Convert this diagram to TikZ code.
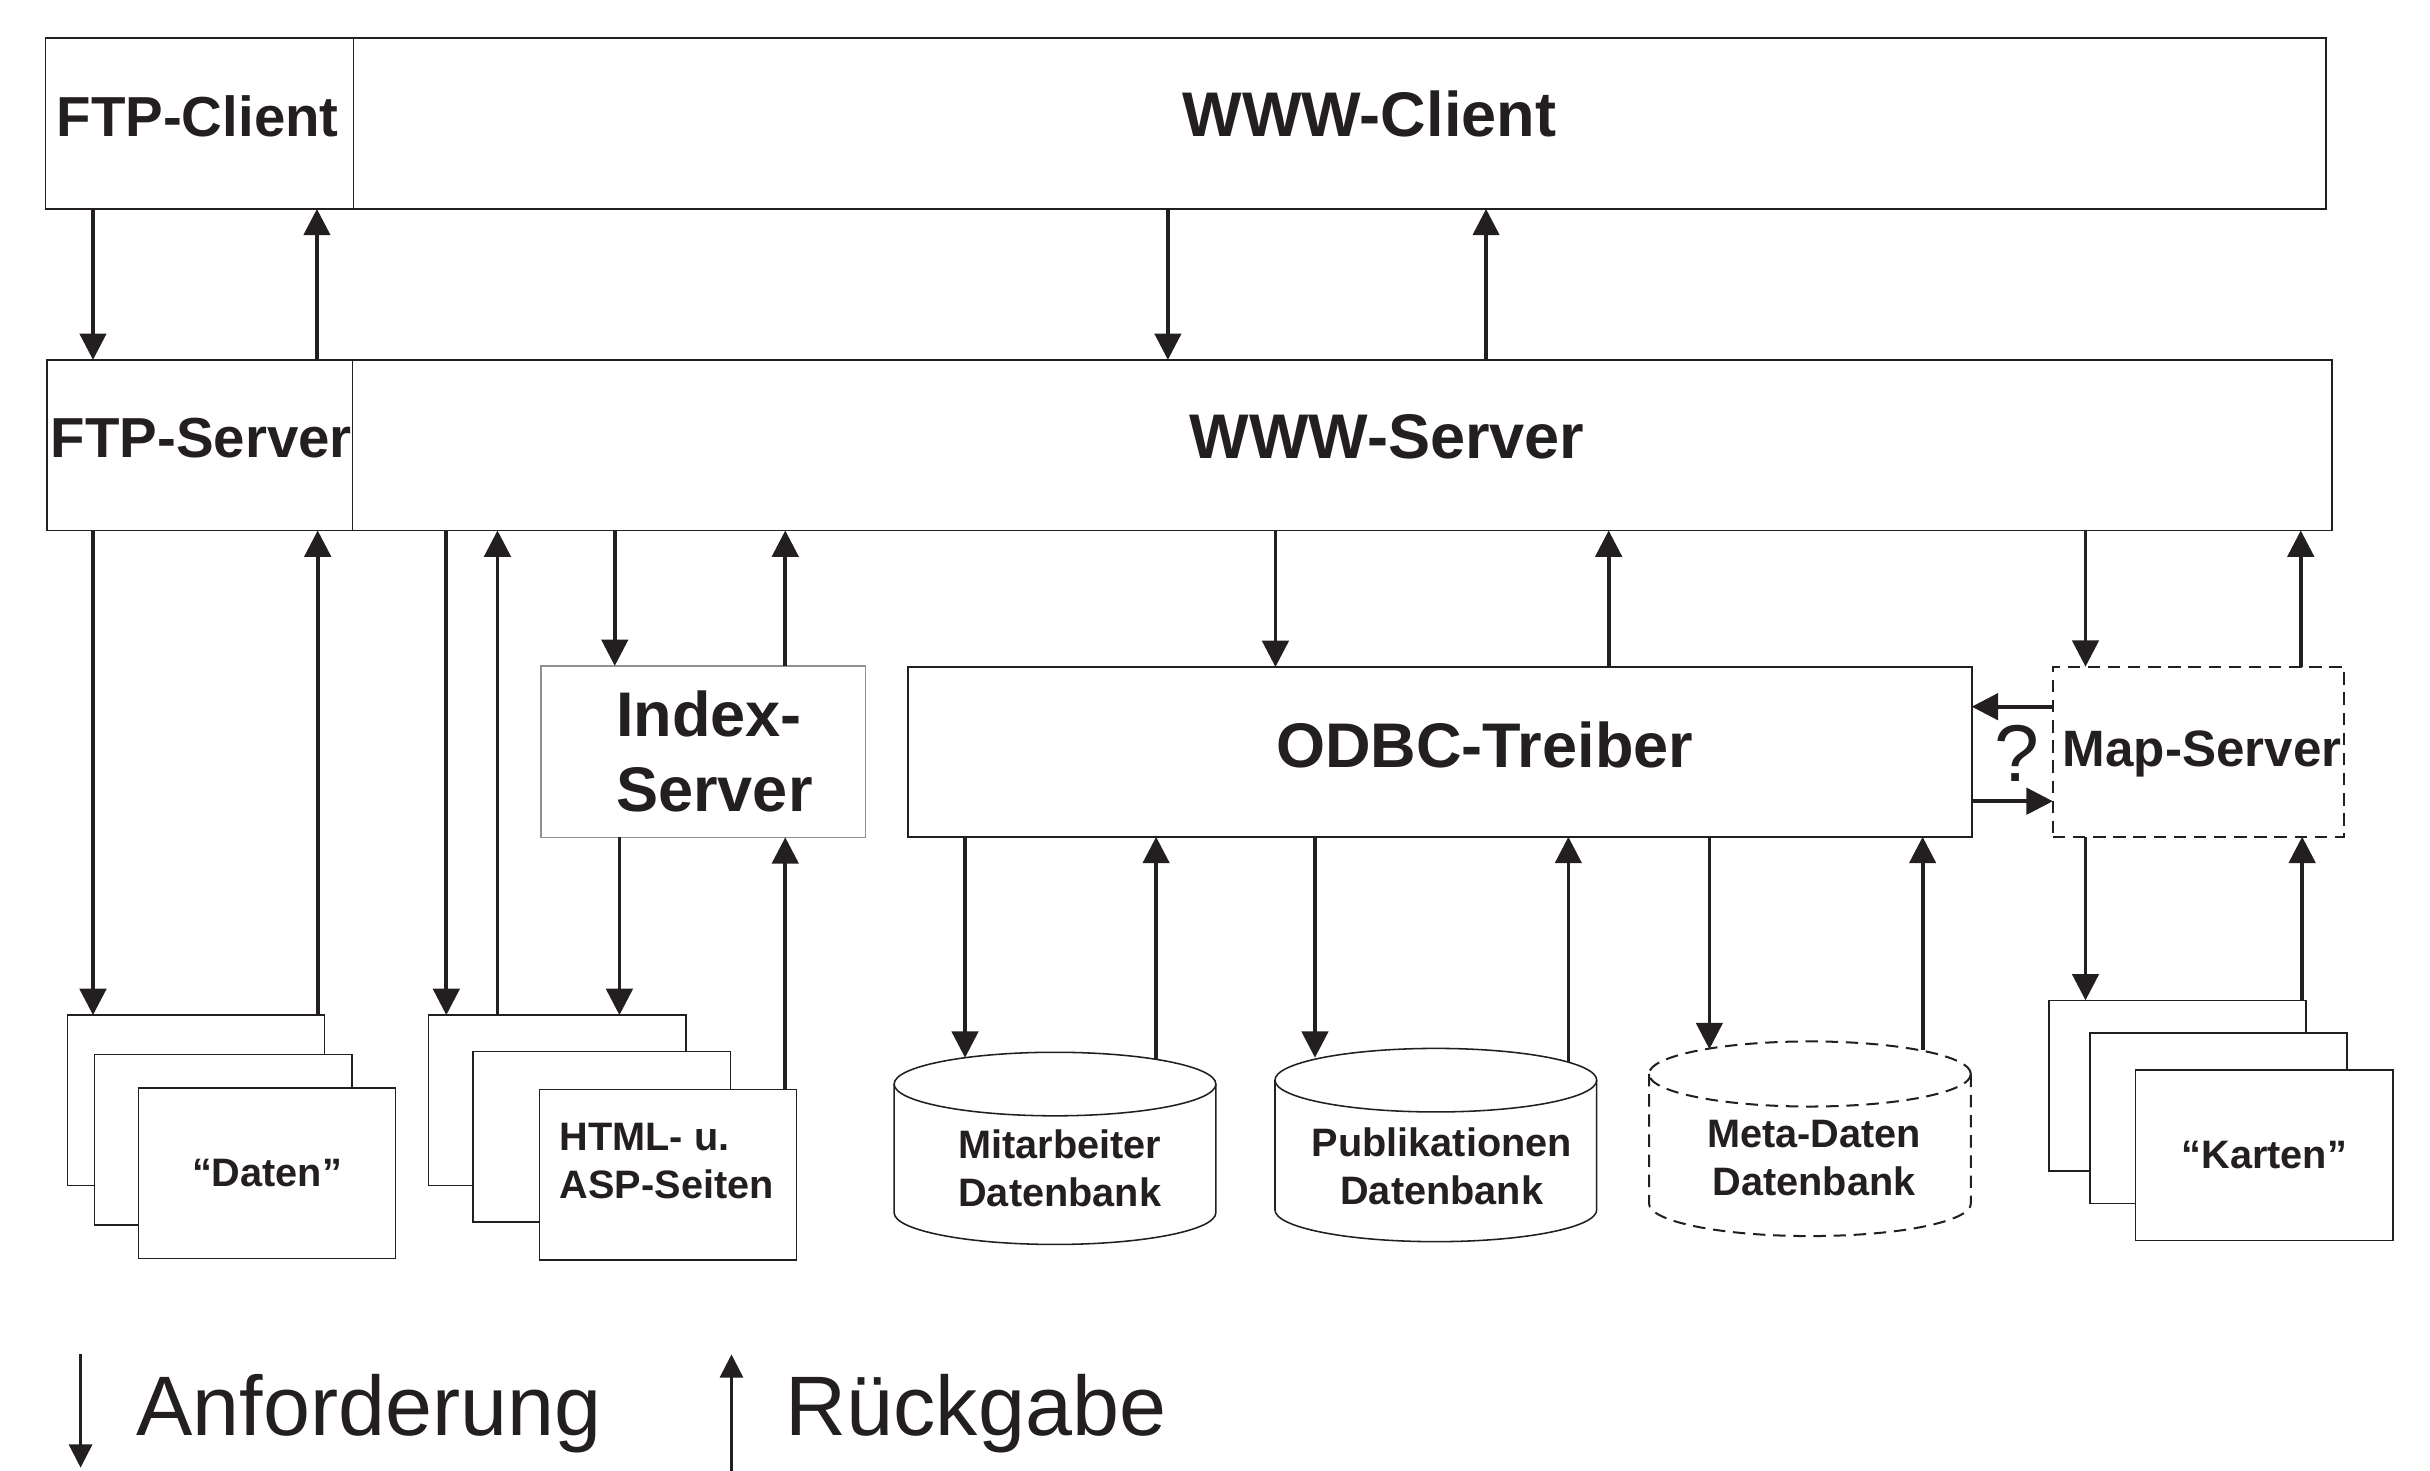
\documentclass[tikz,border=0pt]{standalone}
\usepackage{fontspec}
\setmainfont{Liberation Sans}
\usetikzlibrary{arrows.meta,calc}
\definecolor{ink}{HTML}{231F20}
% #1 node name, #2 x radius, #3 y radius, #4 style
\newcommand\drawcyl[4]{%
  \draw[#4] ($(#1.north)+(0,#3)$) ellipse [x radius=#2pt, y radius=#3pt];
  \draw[#4] ($(#1.north west)+(0,#3)$) -- ($(#1.south west)+(0,-#3)$)
     arc[start angle=180, end angle=360, x radius=#2pt, y radius=#3pt]
     -- ($(#1.north east)+(0,#3)$);
}
\begin{document}
\begin{tikzpicture}[x=1pt,y=-1pt,
  every node/.style={inner sep=0pt,outer sep=0pt,text=ink},
  box/.style={draw=ink,line width=1pt,fill=white,rectangle},
  graybox/.style={draw=ink!50,line width=0.9pt,fill=white,rectangle},
  dashbox/.style={draw=ink,line width=1.3pt,fill=white,rectangle,dash pattern=on 8pt off 5pt},
  page/.style={box,minimum width=166pt,minimum height=110pt},
  cylbox/.style={rectangle,minimum width=207.6pt},
  arr/.style={draw=ink,line width=2.4pt,-{Triangle[length=17pt,width=17pt]}},
  legarr/.style={draw=ink,line width=1.6pt,-{Triangle[length=15pt,width=15pt]}},
  bigtxt/.style={font=\fontsize{40.7pt}{49pt}\selectfont\bfseries},
  ftptxt/.style={font=\fontsize{36.4pt}{44pt}\selectfont\bfseries},
  maptxt/.style={font=\fontsize{33pt}{40pt}\selectfont\bfseries},
  smalltxt/.style={font=\fontsize{25.6pt}{31pt}\selectfont\bfseries},
  qtxt/.style={font=\fontsize{52pt}{60pt}\selectfont},
  legtxt/.style={font=\fontsize{54.5pt}{65pt}\selectfont},
  cyl/.style={draw=ink,line width=1pt},
  cyldash/.style={draw=ink,line width=1.3pt,dash pattern=on 8pt off 5pt},
]
\fill[white] (0,0) rectangle (1568,949);
\useasboundingbox (0,0) rectangle (1568,949);

% --- top rows ---
\node[box,minimum width=198.6pt,minimum height=110.3pt] (ftpc) at (128.7,79.65) {};
\node[box,minimum width=1272.7pt,minimum height=110.3pt] (wwwc) at (864.35,79.65) {};
\node[box,minimum width=197pt,minimum height=110.1pt] (ftps) at (129,287.25) {};
\node[box,minimum width=1277.3pt,minimum height=110.1pt] (wwws) at (866.15,287.25) {};
\node[ftptxt] (ftpctxt) at (127.5,75.3) {FTP-Client};
\node[bigtxt] (wwwctxt) at (883.6,73.3) {WWW-Client};
\node[ftptxt] (ftpstxt) at (130,282.7) {FTP-Server};
\node[bigtxt] (wwwstxt) at (895,282) {WWW-Server};

% --- middle row ---
\node[graybox,minimum width=209.6pt,minimum height=110.6pt] (idx) at (453.8,485) {};
\node[bigtxt,align=left] (idxtxt) at (461,484.9) {Index-\\Server};
\node[box,minimum width=686.3pt,minimum height=109.6pt] (odbc) at (929.15,485.2) {};
\node[bigtxt] (odbctxt) at (958,480.5) {ODBC-Treiber};
\node[dashbox,minimum width=187.9pt,minimum height=109.7pt] (map) at (1418.55,485.05) {};
\node[maptxt,text depth=0pt] (maptxt) at (1421,483) {Map-Server};
\node[qtxt] (q) at (1301.5,486) {?};

% --- page stacks ---
\node[page] (dat1) at (126.5,710) {};
\node[page] (dat2) at (144,735.5) {};
\node[page,smalltxt] (dat3) at (172.3,757) {“Daten”};
\node[page] (htm1) at (359.5,710) {};
\node[page] (htm2) at (388.3,733.5) {};
\node[page] (htm3) at (431,758) {};
\node[smalltxt,align=left] (htmtxt) at (430.2,749) {HTML- u.\\ASP-Seiten};
\node[page] (kar1) at (1405,700.5) {};
\node[page] (kar2) at (1431.5,721.5) {};
\node[page,smalltxt] (kar3) at (1461,745.5) {“Karten”};

% --- databases ---
\node[cylbox,minimum height=124pt] (mit) at (680.75,741) {};
\drawcyl{mit}{103.8}{20.5}{cyl}
\node[smalltxt,align=center] (mittxt) at (683.8,754) {Mitarbeiter\\Datenbank};
\node[cylbox,minimum height=124.7pt] (pub) at (926.5,738.85) {};
\drawcyl{pub}{103.8}{20.5}{cyl}
\node[smalltxt,align=center] (pubtxt) at (930.3,752.7) {Publikationen\\Datenbank};
\node[cylbox,minimum height=125.6pt] (meta) at (1167.85,734.8) {};
\drawcyl{meta}{103.85}{21}{cyldash}
\node[smalltxt,align=center] (metatxt) at (1170.6,747.5) {Meta-Daten\\Datenbank};

% --- connectors: clients / servers ---
\draw[arr] (ftpc.south -| 60,0) -- (ftps.north -| 60,0);
\draw[arr] (ftps.north -| 204.5,0) -- (ftpc.south -| 204.5,0);
\draw[arr] (wwwc.south -| 753.6,0) -- (wwws.north -| 753.6,0);
\draw[arr] (wwws.north -| 958.9,0) -- (wwwc.south -| 958.9,0);

% --- servers to lower level ---
\draw[arr] (ftps.south -| 60,0) -- (dat1.north -| 60,0);
\draw[arr] (dat1.north -| 205,0) -- (ftps.south -| 205,0);
\draw[arr] (wwws.south -| 288,0) -- (htm1.north -| 288,0);
\draw[arr] (htm1.north -| 321,0) -- (wwws.south -| 321,0);
\draw[arr] (wwws.south -| 396.7,0) -- (idx.north -| 396.7,0);
\draw[arr] (idx.north -| 506.7,0) -- (wwws.south -| 506.7,0);
\draw[arr] (idx.south -| 399.7,0) -- (htm1.north -| 399.7,0);
\draw[arr] (htm3.north -| 506.7,0) -- (idx.south -| 506.7,0);
\draw[arr] (wwws.south -| 823,0) -- (odbc.north -| 823,0);
\draw[arr] (odbc.north -| 1038,0) -- (wwws.south -| 1038,0);
\draw[arr] (wwws.south -| 1345.7,0) -- (map.north -| 1345.7,0);
\draw[arr] (map.north -| 1484.6,0) -- (wwws.south -| 1484.6,0);
\draw[arr] (map.west |- 0,456) -- (odbc.east |- 0,456);
\draw[arr] (odbc.east |- 0,517) -- (map.west |- 0,517);

% --- ODBC to databases ---
\draw[arr] (odbc.south -| 622.7,0) -- ($(mit.north -| 622.7,0)+(0,3.5)$);
\draw[arr] ($(mit.north -| 746,0)+(0,4.6)$) -- (odbc.south -| 746,0);
\draw[arr] (odbc.south -| 848.5,0) -- ($(pub.north -| 848.5,0)+(0,6)$);
\draw[arr] ($(pub.north -| 1012,0)+(0,8.7)$) -- (odbc.south -| 1012,0);
\draw[arr] (odbc.south -| 1103,0) -- ($(meta.north -| 1103,0)+(0,5)$);
\draw[arr] ($(meta.north -| 1240.6,0)+(0,5.6)$) -- (odbc.south -| 1240.6,0);

% --- Map-Server to maps ---
\draw[arr] (map.south -| 1345.7,0) -- (kar1.north -| 1345.7,0);
\draw[arr] (kar1.north -| 1485.5,0) -- (map.south -| 1485.5,0);

% --- legend ---
\coordinate (la1) at (52,874);
\coordinate (la2) at (52,947);
\draw[legarr] (la1) -- (la2);
\node[legtxt,anchor=base west] (anf) at (88,926) {Anforderung};
\coordinate (lb1) at (472,949);
\coordinate (lb2) at (472,874);
\draw[legarr] (lb1) -- (lb2);
\node[legtxt,anchor=base west] (rueck) at (507,926) {Rückgabe};
\end{tikzpicture}
\end{document}
